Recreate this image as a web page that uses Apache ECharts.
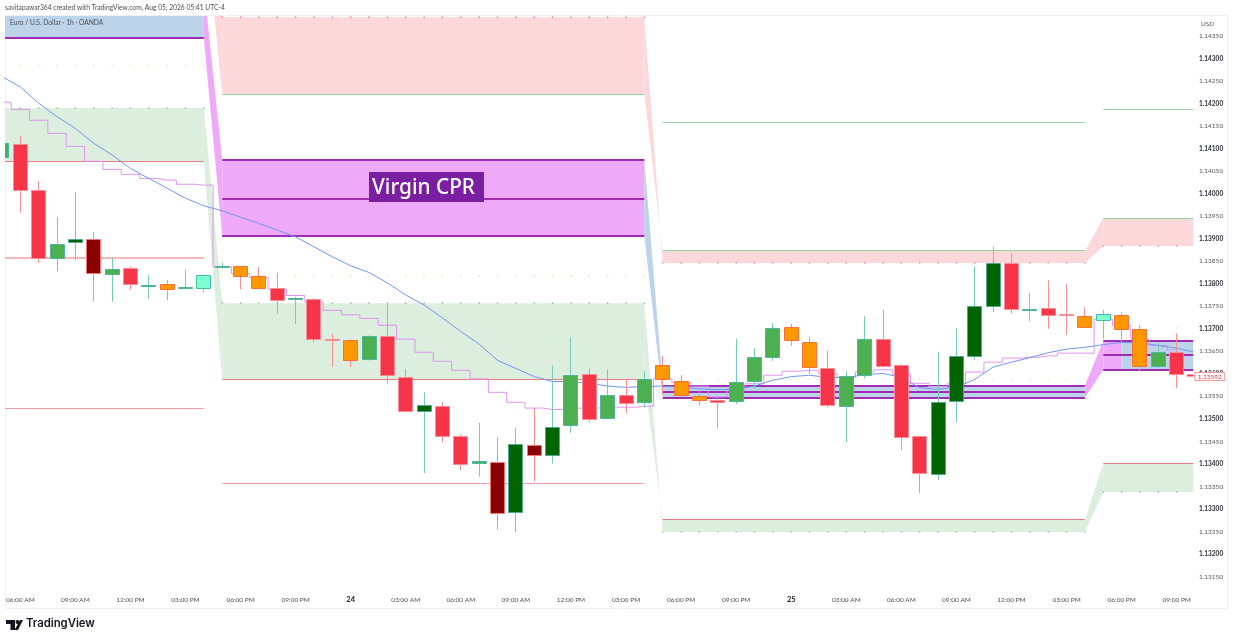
<!DOCTYPE html>
<html>
<head>
<meta charset="utf-8">
<title>EUR/USD 1h</title>
<script src="https://cdn.jsdelivr.net/npm/echarts@6/dist/echarts.min.js"></script>
<style>
html,body{margin:0;padding:0;background:#fff}
#c{width:1233px;height:641px}
</style>
</head>
<body>
<div id="c"></div>
<script>
// ---- values are in 1e-5 price units (pipettes above 1.00000) ----
const firstBar = -1;
const kinds = ['g','r','r','g','G','R','g','r','g','o','g','a','g','o','o','r','g','r','r','o','g','r','r','G','r','r','g','R','G','R','G','g','r','g','r','g','o','o','o','r','g','g','g','o','o','r','g','g','r','r','r','G','G','G','G','r','g','r','r','o','a','o','o','g','r'];
const opens  = [114081,114110,114008,113857,113891,113898,113820,113833,113795,113799,113788,113790,113837,113839,113817,113790,113765,113765,113677,113674,113630,113682,113593,113515,113527,113460,113401,113404,113293,113441,113418,113486,113598,113500,113552,113535,113618,113583,113550,113540,113538,113583,113637,113702,113670,113611,113528,113597,113677,113618,113460,113378,113538,113638,113749,113844,113740,113745,113731,113727,113719,113730,113699,113617,113648];
const highs  = [114112,114128,114028,113948,114004,113915,113857,113839,113820,113808,113831,113819,113847,113839,113837,113825,113771,113768,113688,113677,113686,113754,113611,113559,113538,113466,113491,113460,113481,113525,113619,113681,113612,113610,113587,113606,113640,113597,113566,113552,113677,113657,113713,113711,113683,113652,113606,113728,113742,113622,113462,113649,113701,113839,113883,113868,113779,113808,113799,113748,113742,113737,113708,113671,113690];
const lows   = [114081,113958,113846,113828,113853,113760,113760,113787,113767,113764,113788,113781,113834,113788,113790,113734,113711,113669,113616,113615,113629,113578,113517,113380,113448,113386,113372,113254,113248,113361,113401,113469,113492,113499,113512,113525,113553,113548,113530,113479,113533,113568,113629,113662,113600,113525,113449,113591,113617,113431,113336,113365,113493,113631,113737,113734,113716,113700,113687,113702,113677,113671,113606,113610,113568];
const closes = [114112,114007,113857,113888,113898,113822,113831,113797,113797,113788,113791,113819,113838,113816,113790,113763,113767,113676,113674,113630,113682,113595,113517,113529,113460,113398,113405,113291,113443,113418,113481,113597,113498,113551,113534,113587,113588,113551,113541,113535,113580,113637,113701,113673,113614,113529,113595,113677,113617,113458,113378,113537,113638,113750,113845,113741,113742,113730,113728,113702,113732,113699,113617,113648,113599];

const emaLine = [114260,114237,114201,114171,114145,114112,114086,114056,114034,114012,113990,113973,113962,113948,113934,113919,113904,113882,113860,113840,113825,113802,113775,113753,113724,113694,113666,113630,113612,113594,113583,113583,113579,113573,113570,113572,113573,113570,113567,113565,113566,113573,113586,113594,113597,113592,113592,113598,113601,113592,113569,113566,113570,113588,113615,113626,113636,113647,113655,113659,113665,113670,113669,113663,113657];
const emaTail = [63.9,113649];
const stepLine = [114203,114187,114163,114134,114105,114072,114054,114043,114034,114030,114021,114019,113838,113823,113814,113788,113774,113759,113741,113731,113723,113708,113677,113648,113628,113608,113589,113559,113537,113524,113521,113524,113524,113526,113526,113528,113589,113581,113573,113549,113566,113578,113597,113606,113608,113600,113592,113604,113609,113599,113579,113572,113578,113604,113626,113635,113637,113640,113646,113646,113721,113708,113677,113663,113653];

// daily sessions (bar index ranges)
const sessionStart = [-1,11,35,59];
const sessionEnd   = [10,34,58,63.9];
const cprTop = [114461,114075,113574,113673];
const cprMid = [114403,113989,113560,113641];
const cprBot = [114345,113905,113547,113609];
const cprFill = ['blue','magenta','blue','blue'];
const cprFirstSessionBreak = 60; // the last session starts magenta up to this bar
const resistLine = [114628,114220,113873,113946];
const resistDots = [114763,114392,113846,113884];
const supportLine = [114071,113587,113276,113400];
const supportDots = [114190,113757,113249,113338];
const pivotDots = [114285,113817,113588,113702];
const outerPink = [113524,113357];
const outerGreen = [114158,114187];
const extraLevelValue = 113857;     // thick pale line in the first session
const lastPrice = 113592;

const priceTicks = [114350,114300,114250,114200,114150,114100,114050,114000,113950,113900,113850,113800,113750,113700,113650,113600,113550,113500,113450,113400,113350,113300,113250,113200,113150];
const timeLabels = ['06:00 AM','09:00 AM','12:00 PM','03:00 PM','06:00 PM','09:00 PM','24','03:00 AM','06:00 AM','09:00 AM','12:00 PM','03:00 PM','06:00 PM','09:00 PM','25','03:00 AM','06:00 AM','09:00 AM','12:00 PM','03:00 PM','06:00 PM','09:00 PM'];
const timeTicks = timeLabels.map((_, k) => k * 3);

// ---- styles ----
const P = 1e-5;
const FONT = '"Lato","Noto Sans",sans-serif';
const fills = {blue:'#bdd3ea',magenta:'#efa9f9',pink:'#fcd8da',green:'#dceedd'};
const lineCols = {pink:'#f49aa5',green:'#97d5a0',red:'#e97c80',purple:'#a02cb5',pale:'#fbb4b8'};
const bodyCols = {r:'#f63648',R:'#8b0000',g:'#4caf50',G:'#006400',o:'#ff9800',a:'#7fffd4'};
const edgeCols = {r:'#f98f95',R:'#f0777e',g:'#4fb5a0',G:'#4fa896',o:'#f8703a',a:'#3fbfa3'};
const wickCols = {r:'#f88f95',R:'#f88f95',g:'#78cbbb',G:'#78cbbb',o:'#f88f95',a:'#78cbbb'};

// ---- build series data from arrays ----
const bands = [];
function pushBand(x0,x1,a0,b0,a1,b1,col){bands.push([x0,x1,a0*P,b0*P,a1*P,b1*P,col]);}
for (let s=0;s<4;s++){
  const x0=sessionStart[s],x1=sessionEnd[s];
  pushBand(x0,x1,resistLine[s],resistDots[s],resistLine[s],resistDots[s],fills.pink);
  pushBand(x0,x1,supportLine[s],supportDots[s],supportLine[s],supportDots[s],fills.green);
  if (s===3){
    pushBand(x0,cprFirstSessionBreak,cprTop[s],cprBot[s],cprTop[s],cprBot[s],fills.magenta);
    pushBand(cprFirstSessionBreak,x1,cprTop[s],cprBot[s],cprTop[s],cprBot[s],fills.blue);
  } else {
    pushBand(x0,x1,cprTop[s],cprBot[s],cprTop[s],cprBot[s],fills[cprFill[s]]);
  }
  if (s<3){
    const nx=sessionStart[s+1];
    pushBand(x1,nx,resistLine[s],resistDots[s],resistLine[s+1],resistDots[s+1],fills.pink);
    pushBand(x1,nx,supportLine[s],supportDots[s],supportLine[s+1],supportDots[s+1],fills.green);
    pushBand(x1,nx,cprTop[s],cprBot[s],cprTop[s+1],cprBot[s+1],s===2?fills.magenta:fills[cprFill[s+1]]);
  }
}
function spans(values,sessions){
  return values.map((v,k)=>{const s=sessions?sessions[k]:k;return [sessionStart[s],sessionEnd[s],v*P];});
}
function levelSeries(name,data,color,width){
  return {type:'custom',name,silent:true,z:2,clip:true,coordinateSystem:'cartesian2d',
    data,encode:{x:[0,1],y:2},
    renderItem:(p,api)=>{
      const a=api.coord([api.value(0),api.value(2)]),b=api.coord([api.value(1),api.value(2)]);
      const y=width===2?Math.round(a[1]):crisp(a[1]);
      return {type:'line',shape:{x1:a[0],y1:y,x2:b[0],y2:y},style:{stroke:color,lineWidth:width}};
    }};
}

function dotData(arr,skip){
  const out=[];
  for (let s=0;s<4;s++){
    if (skip && skip.includes(s)) continue;
    const from=Math.max(0,Math.ceil(sessionStart[s]));
    const to=Math.min(63,Math.floor(sessionEnd[s]));
    for (let i=from;i<=to;i++) out.push([i,arr[s]*P]);
  }
  return out;
}
function dotSeries(arr,color,skip){
  return {type:'scatter',silent:true,z:3,symbol:'circle',symbolSize:1.6,clip:true,data:dotData(arr,skip),itemStyle:{color}};
}
const candleData = kinds.map((k,n)=>[n+firstBar,opens[n]*P,highs[n]*P,lows[n]*P,closes[n]*P,k]);
const emaData = emaLine.map((v,n)=>[n+firstBar,v*P]).concat([[emaTail[0],emaTail[1]*P]]);
const stepData = stepLine.map((v,n)=>[n+firstBar,v*P]);

function crisp(v){return Math.round(v-0.5)+0.5;}

const option = {
  animation:false,
  backgroundColor:'#fff',
  textStyle:{fontFamily:FONT},
  grid:{left:5,right:36,top:16,bottom:51,containLabel:false,show:false},
  xAxis:{
    type:'value',min:-0.8335,max:64.106,
    axisLine:{show:false},axisTick:{show:false},splitLine:{show:false},
    axisLabel:{
      customValues:timeTicks,margin:6,fontSize:6.5,color:'#4d4f55',hideOverlap:false,fontFamily:FONT,
      formatter:v=>{
        const t=timeLabels[Math.round(v/3)];
        return /^\d\d$/.test(t)?'{b|'+t+'}':t;
      },
      rich:{b:{fontWeight:'bold',fontSize:7.5,color:'#131722',fontFamily:FONT}}
    }
  },
  yAxis:{
    type:'value',position:'right',min:1.131202,max:1.143945,scale:true,
    axisLine:{show:false},axisTick:{show:false},splitLine:{show:false},
    axisLabel:{
      customValues:priceTicks.map(v=>v*P),margin:2,fontSize:6.5,align:'left',color:'#55585f',fontFamily:FONT,
      formatter:v=>{
        const u=Math.round(v*1e5);
        const s=v.toFixed(5);
        return u%100===0?'{b|'+s+'}':s;
      },
      rich:{b:{fontWeight:'bold',fontSize:6.5,color:'#2a2e39',fontFamily:FONT}}
    }
  },
  series:[
    {type:'custom',name:'bands',silent:true,z:1,clip:true,coordinateSystem:'cartesian2d',
     data:bands,encode:{x:[0,1],y:[2,3]},
     renderItem:(p,api)=>{
       const d=bands[p.dataIndex];
       const a=api.coord([d[0],d[2]]),b=api.coord([d[1],d[4]]),c=api.coord([d[1],d[5]]),e=api.coord([d[0],d[3]]);
       return {type:'polygon',shape:{points:[a,b,c,e]},style:{fill:d[6],stroke:null}};
     }},
    levelSeries('resist',spans(resistLine),lineCols.green,1),
    levelSeries('outerG',spans(outerGreen,[2,3]),lineCols.green,1),
    levelSeries('support',spans(supportLine),lineCols.red,1),
    levelSeries('outerP',spans(outerPink,[0,1]),lineCols.pink,1),
    levelSeries('extra',spans([extraLevelValue],[0]),lineCols.pale,2),
    levelSeries('cprT',spans(cprTop),lineCols.purple,2),
    levelSeries('cprM',spans(cprMid),lineCols.purple,2),
    levelSeries('cprB',spans(cprBot),lineCols.purple,2),
    dotSeries(pivotDots,'#f7d774'),
    dotSeries(supportDots,'#66bb6a'),
    dotSeries(resistDots,'#ef5f6d',[0]),
    {type:'line',name:'step',silent:true,z:4,data:stepData,step:'middle',symbol:'none',clip:true,
     lineStyle:{color:'#e293f5',width:1}},
    {type:'line',name:'ema',silent:true,z:4,data:emaData,symbol:'none',clip:true,
     lineStyle:{color:'#6f97f3',width:1}},
    {type:'custom',name:'candles',silent:true,z:5,clip:true,coordinateSystem:'cartesian2d',
     data:candleData,encode:{x:0,y:[1,2,3,4]},
     renderItem:(p,api)=>{
       const d=candleData[p.dataIndex];
       const k=d[5];
       const cx=api.coord([d[0],d[1]])[0];
       const x=crisp(cx);
       const yo=api.coord([d[0],d[1]])[1],yh=api.coord([d[0],d[2]])[1],yl=api.coord([d[0],d[3]])[1],yc=api.coord([d[0],d[4]])[1];
       const top=Math.min(yo,yc),bot=Math.max(yo,yc);
       const w=14;
       return {type:'group',children:[
         {type:'line',shape:{x1:x,y1:yh,x2:x,y2:yl},style:{stroke:wickCols[k],lineWidth:1}},
         {type:'rect',shape:{x:crisp(x-w/2),y:crisp(top),width:w,height:Math.max(1,Math.round(bot-top))},
          style:{fill:bodyCols[k],stroke:edgeCols[k],lineWidth:1}}
       ]};
     }},
    {type:'custom',name:'last',silent:true,z:6,clip:false,coordinateSystem:'cartesian2d',
     data:[[63.9,lastPrice*P]],encode:{x:0,y:1},
     renderItem:(p,api)=>{
       const c=api.coord([63.9,lastPrice*P]);
       const y=Math.round(c[1]);
       return {type:'group',children:[
         {type:'rect',shape:{x:c[0]-6,y:y-2.5,width:6,height:2},style:{fill:'#f23645'}},
         {type:'rect',shape:{x:c[0]+1.5,y:y-4.5,width:30,height:8},style:{fill:'#fff',stroke:'#f7969c',lineWidth:1}},
         {type:'text',style:{x:c[0]+16.5,y:y,text:(lastPrice*P).toFixed(5),fill:'#f23645',font:'6.5px '+FONT,align:'center',verticalAlign:'middle'}}
       ]};
     }}
  ],
  graphic:[
    {type:'rect',silent:true,z:0,shape:{x:5.5,y:15.5,width:1222,height:593},style:{fill:'none',stroke:'#eef0f3',lineWidth:1}},
    {type:'text',silent:true,z:20,left:5,top:4,style:{text:'savitapawar364 created with TradingView.com, Aug 05, 2026 05:41 UTC-4',fill:'#4a4d55',font:'6.7px '+FONT}},
    {type:'text',silent:true,z:20,left:10,top:19.5,style:{text:'Euro / U.S. Dollar · 1h · OANDA',fill:'#4f5259',font:'6.7px '+FONT}},
    {type:'text',silent:true,z:20,left:1201,top:20.5,style:{text:'USD',fill:'#4f5259',font:'6.5px '+FONT}},
    {type:'rect',silent:true,z:20,shape:{x:369,y:172,width:115,height:30},style:{fill:'#7b1fa2'}},
    {type:'text',silent:true,z:21,left:372,top:178,style:{text:'Virgin CPR',fill:'#fff',font:'500 20.8px "Noto Sans",sans-serif'}},
    // TradingView wordmark
    {type:'polygon',silent:true,z:20,shape:{points:[[6,620],[15,620],[15,630],[10.5,630],[10.5,624],[6,624]]},style:{fill:'#131722'}},
    {type:'circle',silent:true,z:20,shape:{cx:17.5,cy:622,r:2},style:{fill:'#131722'}},
    {type:'polygon',silent:true,z:20,shape:{points:[[20,620],[23,620],[18,630],[14.5,630]]},style:{fill:'#131722'}},
    {type:'text',silent:true,z:20,left:26,top:618,style:{text:'TradingView',fill:'#131722',font:'600 11.3px "Inter","Noto Sans",sans-serif'}}
  ]
};
echarts.init(document.getElementById('c'),null,{renderer:'canvas'}).setOption(option);
</script>
</body>
</html>
